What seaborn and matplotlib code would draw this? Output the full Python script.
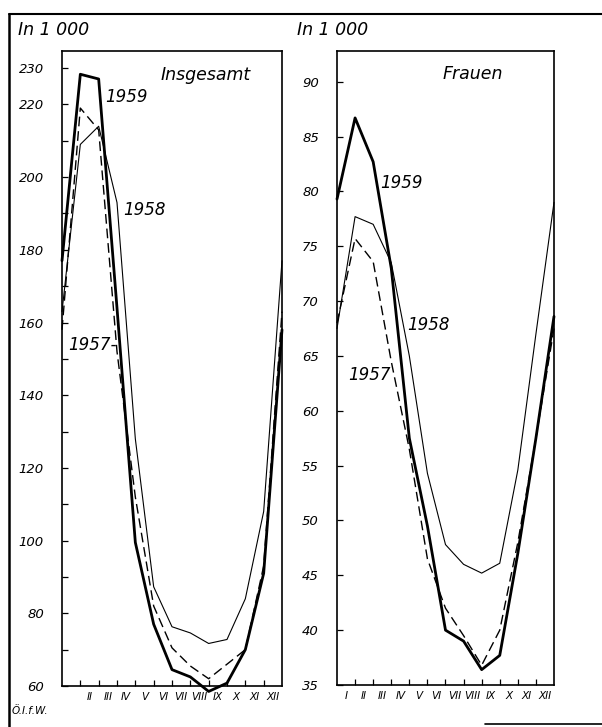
import matplotlib
matplotlib.use("Agg")
import matplotlib.pyplot as plt
from matplotlib.lines import Line2D
import pandas as pd
import seaborn as sns

# ---------------- data ----------------
months = ["I", "II", "III", "IV", "V", "VI", "VII", "VIII", "IX", "X", "XI", "XII"]
months_left = ["", "II", "III", "IV", "V", "VI", "VII", "VIII", "IX", "X", "XI", "XII"]
positions = list(range(13))  # month-end points: Dec of previous year ... Dec

total_1957 = [158, 219, 213, 152, 112, 82, 70.5, 65.5, 62, 66, 70, 93, 163]
total_1958 = [163, 209, 214, 193, 128, 87.3, 76.3, 74.6, 71.7, 72.8, 84, 108, 177]
total_1959 = [177, 228.3, 227, 164, 99.5, 77, 64.5, 62.5, 58.5, 60.8, 70, 91, 158]

women_1957 = [68, 75.7, 73.6, 64.5, 56.5, 46.5, 42, 39.5, 36.8, 40, 48, 57.5, 67.5]
women_1958 = [67.5, 77.7, 77, 73.5, 65, 54.3, 47.8, 46, 45.2, 46.1, 54.6, 67, 79]
women_1959 = [79.3, 86.7, 82.7, 73, 57.5, 49.5, 40, 39, 36.4, 37.7, 47, 57.5, 68.6]

years = ["1957", "1958", "1959"]
left_ticks = list(range(60, 231, 10))
left_labels = [60, 80, 100, 120, 140, 160, 180, 200, 220, 230]
right_ticks = list(range(35, 91, 5))

# ---------------- style ----------------
sns.set_theme(style="white")
plt.rcParams['font.family'] = ['DejaVu Sans']
plt.rcParams['font.style'] = 'italic'
plt.rcParams['text.color'] = 'black'
plt.rcParams['xtick.color'] = 'black'
plt.rcParams['ytick.color'] = 'black'
plt.rcParams['axes.labelcolor'] = 'black'

W, H = 602, 727
fig = plt.figure(figsize=(W / 100, H / 100), dpi=100)
fig.patch.set_facecolor("white")

ax1 = fig.add_axes([62 / W, 1 - 686 / H, 220 / W, 635 / H])
ax2 = fig.add_axes([337 / W, 1 - 685 / H, 217 / W, 634 / H])

line_styles = {
    "1957": dict(linewidth=1.0, linestyle=(0, (7, 3.5))),
    "1958": dict(linewidth=0.8, linestyle="-"),
    "1959": dict(linewidth=2.0, linestyle="-"),
}

def draw(ax, series):
    for yr, vals in zip(years, series):
        df = pd.DataFrame({"pos": positions, "value": vals})
        sns.lineplot(data=df, x="pos", y="value", ax=ax, color="black",
                     clip_on=False, **line_styles[yr])

draw(ax1, [total_1957, total_1958, total_1959])
draw(ax2, [women_1957, women_1958, women_1959])

for ax in (ax1, ax2):
    ax.set_xlim(0, 12)
    ax.set_xlabel("")
    ax.set_ylabel("")
    ax.set_facecolor("white")
    for sp in ax.spines.values():
        sp.set_color("black")
        sp.set_linewidth(1.2)
        sp.set_visible(True)
    ax.set_xticks(range(1, 12))
    ax.set_xticks([p + 0.5 for p in range(12)], minor=True)
    ax.tick_params(axis="x", which="major", direction="in", length=4, width=0.9,
                   color="black", labelbottom=False, bottom=True)
    ax.tick_params(axis="x", which="minor", length=0, pad=4, labelsize=7.5,
                   labelcolor="black", bottom=True)
    ax.tick_params(axis="y", which="major", direction="in", length=4, width=0.9,
                   color="black", pad=13, labelsize=9.5, labelcolor="black", left=True)

ax1.set_xticklabels(months_left, minor=True)
ax2.set_xticklabels(months, minor=True)

ax1.set_ylim(60, 234.7)
ax1.set_yticks(left_ticks)
ax1.set_yticklabels([str(v) if v in left_labels else "" for v in left_ticks])

ax2.set_ylim(35, 92.8)
ax2.set_yticks(right_ticks)
ax2.set_yticklabels([str(v) for v in right_ticks])

# panel texts
ax1.text(5.35, 228.1, "Insgesamt", fontsize=12.5, va="center", ha="left", color="black")
ax1.text(2.35, 222, "1959", fontsize=12, va="center", ha="left", color="black")
ax1.text(3.33, 191, "1958", fontsize=12, va="center", ha="left", color="black")
ax1.text(0.33, 153.8, "1957-", fontsize=12, va="center", ha="left", color="black")

ax2.text(5.86, 90.66, "Frauen", fontsize=12.5, va="center", ha="left", color="black")
ax2.text(2.38, 80.8, "1959", fontsize=12, va="center", ha="left", color="black")
ax2.text(3.87, 67.8, "1958", fontsize=12, va="center", ha="left", color="black")
ax2.text(0.61, 63.3, "1957", fontsize=12, va="center", ha="left", color="black")

fig.text(18 / W, 1 - 30 / H, "In 1 000", fontsize=12.5, va="center", ha="left", color="black")
fig.text(297 / W, 1 - 30 / H, "In 1 000", fontsize=12.5, va="center", ha="left", color="black")
fig.text(12 / W, 1 - 711 / H, "Ö.I.f.W.", fontsize=7.5, va="center", ha="left", color="black")

# outer frame (partially visible in the original)
fig.add_artist(Line2D([9 / W, 9 / W], [0, 1 - 14 / H], transform=fig.transFigure,
                      color="black", linewidth=1.8))
fig.add_artist(Line2D([9 / W, 1], [1 - 14 / H, 1 - 14 / H], transform=fig.transFigure,
                      color="black", linewidth=1.5))
fig.add_artist(Line2D([485 / W, 1], [1 - 724 / H, 1 - 724 / H], transform=fig.transFigure,
                      color="black", linewidth=1.2))

fig.savefig("out.png", dpi=100, facecolor="white")
